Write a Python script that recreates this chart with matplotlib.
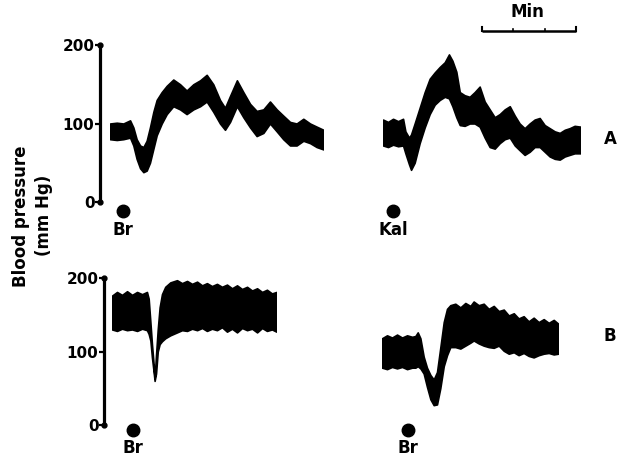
import matplotlib
matplotlib.use('Agg')
import matplotlib.pyplot as plt
from matplotlib import transforms

plt.rcParams['font.family'] = ['DejaVu Sans']
plt.rcParams['font.weight'] = 'bold'

# ---- traces: time (s), upper / lower envelope of pressure (mm Hg) ----
a1_t = [0, 4.3, 8.5, 12.8, 14.9, 17, 19.2, 21.3, 23.4, 25.5, 27.7, 29.8, 33, 36.2,
        40.4, 44.7, 48.9, 53.2, 57.5, 61.7, 65.9, 70.2, 73.4, 76.6, 81, 85.1, 89.4,
        93.6, 97.9, 102.1, 106.4, 110.6, 114.9, 119.1, 123.4, 127.7, 131.9, 136.2]
a1_hi = [100, 101, 100, 104, 95, 80, 72, 70, 78, 95, 115, 130, 140, 148,
         156, 150, 142, 150, 155, 162, 150, 130, 120, 135, 155, 140, 125,
         116, 118, 128, 118, 110, 102, 100, 106, 100, 96, 92]
a1_lo = [80, 79, 80, 82, 72, 55, 43, 38, 40, 50, 68, 85, 100, 112,
         122, 118, 112, 118, 122, 128, 115, 100, 92, 102, 122, 108, 95,
         84, 88, 100, 90, 80, 72, 72, 78, 75, 70, 67]

a2_t = [0, 3.2, 6.4, 9.6, 12.8, 14.3, 16.6, 17.9, 20.2, 23.4, 26.6, 29.8, 33, 36.2,
        39.4, 42.1, 44.3, 46.8, 49, 52.1, 55.3, 58.5, 61.7, 64.9, 68.1, 71.3, 74.5,
        77.7, 80.9, 84.1, 87.2, 90.4, 93.6, 96.8, 100, 103.2, 106.4, 109.6, 112.8,
        116, 119.1, 122.3, 126]
a2_hi = [105, 102, 106, 103, 106, 90, 82, 86, 100, 120, 140, 157, 165, 172,
         178, 188, 180, 166, 140, 136, 134, 140, 147, 128, 118, 108, 112,
         118, 122, 110, 100, 94, 100, 105, 107, 98, 94, 90, 88,
         92, 94, 97, 96]
a2_lo = [72, 70, 73, 71, 72, 62, 48, 41, 50, 75, 95, 112, 124, 130,
         134, 132, 122, 108, 98, 97, 100, 100, 96, 82, 70, 68, 75,
         80, 82, 72, 66, 60, 64, 70, 70, 64, 58, 55, 54,
         58, 60, 62, 62]

b1_t = [0, 3.2, 6.4, 9.6, 12.8, 16, 19.2, 22.3, 23.4, 24.5, 25.5, 26.6, 27.2, 28.1,
        29.2, 30.4, 31.9, 34, 37.2, 41.5, 44.7, 47.9, 51.1, 54.3, 57.5, 60.6, 63.8,
        67, 70.2, 73.4, 76.6, 79.8, 83, 86.2, 89.4, 92.6, 95.8, 98.9, 102.1, 104.9]
b1_hi = [176, 181, 177, 182, 177, 181, 178, 181, 172, 140, 110, 82, 63, 95,
         130, 160, 178, 188, 194, 197, 193, 196, 192, 195, 190, 193, 189,
         192, 188, 191, 186, 190, 185, 188, 183, 186, 181, 184, 179, 181]
b1_lo = [130, 128, 131, 129, 130, 128, 131, 129, 124, 115, 92, 72, 60, 70,
         100, 110, 114, 118, 122, 126, 129, 128, 131, 129, 132, 128, 131,
         129, 133, 127, 131, 126, 132, 129, 131, 126, 132, 128, 130, 127]

b2_t = [0, 3.2, 6.4, 9.6, 12.8, 16, 19.2, 21.3, 22.8, 24.5, 26.6, 28.7, 30.9, 33,
        35.1, 37.2, 39.4, 41.5, 43.6, 46.8, 50, 53.2, 56.4, 58.5, 61.7, 64.9, 68.1,
        71.3, 74.5, 77.7, 80.9, 84.1, 87.2, 90.4, 93.6, 96.8, 100, 103.2, 106.4,
        109.6, 112.4]
b2_hi = [118, 122, 119, 123, 119, 122, 120, 121, 126, 118, 93, 78, 68, 62,
         72, 105, 140, 158, 163, 165, 160, 166, 162, 168, 163, 165, 158,
         162, 155, 157, 149, 152, 145, 148, 141, 146, 140, 144, 139,
         143, 138]
b2_lo = [78, 76, 79, 77, 79, 76, 78, 78, 80, 77, 70, 52, 35, 27,
         28, 50, 80, 95, 106, 106, 104, 108, 112, 115, 111, 108, 106,
         105, 108, 101, 97, 99, 95, 98, 94, 92, 95, 97, 98,
         96, 97]

stim_t = [8.3, 6.4, 13.4, 16.6]
stim_lab = ['Br', 'Kal', 'Br', 'Br']
yticks = [0, 100, 200]

W, H = 618, 463
SEC_PER_PX = 60 / 94.0

fig = plt.figure(figsize=(W / 100, H / 100), dpi=100)


def px_axes(x0, y_top, x1, y_bot):
    return fig.add_axes([x0 / W, 1 - y_bot / H, (x1 - x0) / W, (y_bot - y_top) / H])


def scale_axis(x, y200, y0):
    ax = px_axes(x, y200, x + 1, y0)
    ax.set_xlim(0, 1)
    ax.set_ylim(0, 200)
    for s in ['top', 'right', 'bottom']:
        ax.spines[s].set_visible(False)
    ax.spines['left'].set_linewidth(2.3)
    ax.set_xticks([])
    ax.set_yticks(yticks)
    ax.set_yticklabels([str(v) for v in yticks], fontsize=11, fontweight='bold')
    ax.tick_params(axis='y', length=3.5, width=1.6, pad=0.5)
    ax.plot([0, 0], [0, 200], 'o', color='k', ms=3.5, clip_on=False)
    ax.patch.set_visible(False)


def trace(x0, y200, y0, t, hi, lo, st, lab, dot_dy, lab_dy):
    ax = px_axes(x0, y200, x0 + t[-1] / SEC_PER_PX, y0)
    ax.set_xlim(0, t[-1])
    ax.set_ylim(0, 200)
    ax.set_axis_off()
    ax.fill_between(t, lo, hi, color='black', lw=1.2, edgecolor='black')
    tr = transforms.offset_copy(ax.transData, fig=fig, x=0, y=-dot_dy, units='dots')
    ax.plot([st], [0], 'o', color='k', ms=9, transform=tr, clip_on=False)
    tr2 = transforms.offset_copy(ax.transData, fig=fig, x=0, y=-lab_dy, units='dots')
    ax.text(st, 0, lab, transform=tr2, ha='center', va='center', fontsize=12,
            fontweight='bold')


scale_axis(100, 45, 202)
scale_axis(104, 278, 425)

trace(110, 45, 202, a1_t, a1_hi, a1_lo, stim_t[0], stim_lab[0], 9, 28)
trace(383, 45, 202, a2_t, a2_hi, a2_lo, stim_t[1], stim_lab[1], 9, 28)
trace(112, 278, 425, b1_t, b1_hi, b1_lo, stim_t[2], stim_lab[2], 5, 23)
trace(382, 278, 425, b2_t, b2_hi, b2_lo, stim_t[3], stim_lab[3], 5, 23)

# row letters
fig.text(610 / W, 1 - 139 / H, 'A', ha='center', va='center', fontsize=12, fontweight='bold')
fig.text(610 / W, 1 - 336 / H, 'B', ha='center', va='center', fontsize=12, fontweight='bold')

# y label
fig.text(21 / W, 1 - 216 / H, 'Blood pressure', rotation=90, ha='center', va='center',
         fontsize=12, fontweight='bold')
fig.text(44 / W, 1 - 215 / H, '(mm Hg)', rotation=90, ha='center', va='center',
         fontsize=12, fontweight='bold')

# time bar: 1 min
bar = px_axes(482, 20, 482 + 60 / SEC_PER_PX, 31)
bar.set_xlim(0, 60)
bar.set_ylim(0, 1)
bar.set_axis_off()
bar.plot([0, 60], [0, 0], color='k', lw=1.8, solid_capstyle='butt', clip_on=False)
bar.plot([0, 0], [0, 0.35], color='k', lw=1.5, clip_on=False)
bar.plot([60, 60], [0, 0.35], color='k', lw=1.5, clip_on=False)
for tk in [20, 40]:
    bar.plot([tk, tk], [0, 0.18], color='k', lw=1.2, clip_on=False)
fig.text(527 / W, 1 - 12 / H, 'Min', ha='center', va='center', fontsize=12, fontweight='bold')

fig.savefig('out.png', dpi=100)
